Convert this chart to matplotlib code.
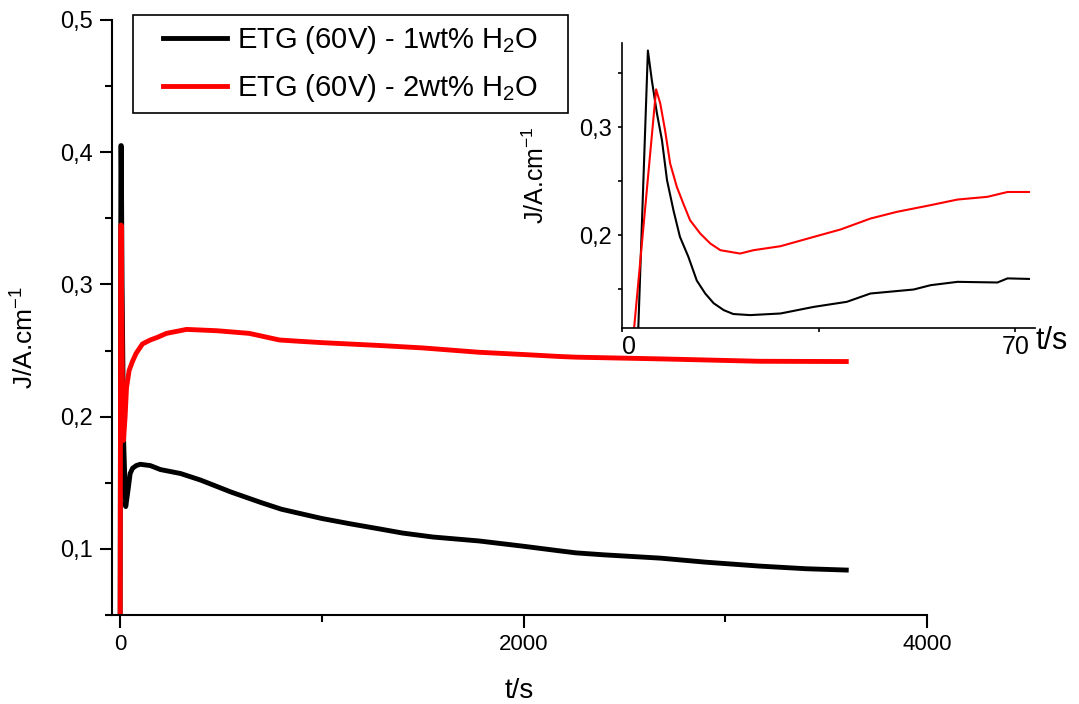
import matplotlib
matplotlib.use("Agg")

import matplotlib.pyplot as plt
from matplotlib.patches import Rectangle
from matplotlib.ticker import FuncFormatter, MultipleLocator, FixedLocator

plt.rcParams["font.family"] = ["Liberation Sans", "DejaVu Sans"]
plt.rcParams["mathtext.default"] = "regular"

# ---------- Data: full run ----------
t_1wt = [0, 4, 6, 10, 18, 28, 40, 50, 62, 80, 100, 150, 200, 300, 400, 550,
         700, 800, 900, 1000, 1140, 1290, 1400, 1550, 1780, 2000, 2180, 2260,
         2400, 2680, 2900, 3170, 3400, 3600]
j_1wt = [0.0, 0.405, 0.405, 0.30, 0.18, 0.132, 0.145, 0.157, 0.161, 0.163,
         0.164, 0.163, 0.160, 0.157, 0.152, 0.143, 0.135, 0.130, 0.1265, 0.123,
         0.119, 0.115, 0.112, 0.109, 0.106, 0.102, 0.0985, 0.097, 0.0955,
         0.093, 0.090, 0.087, 0.085, 0.084]

t_2wt = [0, 3, 5, 8, 12, 17, 25, 32, 45, 62, 80, 111, 150, 185, 230, 330, 480,
         640, 790, 890, 1000, 1290, 1500, 1780, 2000, 2180, 2260, 2680, 3170,
         3600]
j_2wt = [0.0, 0.30, 0.345, 0.29, 0.22, 0.182, 0.20, 0.222, 0.235, 0.242,
         0.248, 0.255, 0.258, 0.26, 0.263, 0.266, 0.265, 0.263, 0.258, 0.257,
         0.256, 0.2538, 0.252, 0.2487, 0.247, 0.2455, 0.245, 0.2437, 0.2419,
         0.2417]

# ---------- Data: first 70 s (inset) ----------
ti_1wt = [2.8, 4.6, 5.3, 6.2, 7.1, 8.0, 9.15, 10.3, 11.8, 13.3, 14.8, 16.3,
          18.1, 19.8, 22.8, 28.2, 34.1, 40.0, 44.2, 51.9, 54.9, 59.7, 66.8,
          68.6, 72.4]
ji_1wt = [0.10, 0.371, 0.3435, 0.313, 0.288, 0.251, 0.223, 0.1985, 0.180,
          0.158, 0.146, 0.137, 0.1306, 0.127, 0.126, 0.1275, 0.1336, 0.1383,
          0.146, 0.1497, 0.1537, 0.1568, 0.1562, 0.160, 0.1595]

ti_2wt = [1.9, 6.06, 6.8, 7.66, 8.56, 9.75, 10.9, 12.1, 13.9, 15.7, 17.5, 21.0,
          23.4, 28.2, 34.1, 38.9, 44.2, 48.9, 54.9, 59.7, 65.0, 68.6, 72.4]
ji_2wt = [0.10, 0.335, 0.322, 0.297, 0.2664, 0.2447, 0.2293, 0.2139, 0.2016,
          0.1923, 0.1861, 0.183, 0.1861, 0.1898, 0.1984, 0.2053, 0.2154,
          0.2216, 0.2278, 0.2330, 0.2355, 0.240, 0.240]

labels = ["ETG (60V) - 1wt% H$_2$O", "ETG (60V) - 2wt% H$_2$O"]
ylab = "J/A.cm$^{-1}$"

comma = FuncFormatter(lambda v, p: f"{v:g}".replace(".", ","))

fig = plt.figure(figsize=(10.79, 7.04), dpi=100)

# ---------- Main axes ----------
ax = fig.add_axes([0.1038, 0.1264, 0.7553, 0.8452])
ax.plot(t_1wt, j_1wt, color="black", lw=3.5, label=labels[0])
ax.plot(t_2wt, j_2wt, color="red", lw=3.5, label=labels[1])

ax.set_xlim(-40, 4000)
ax.set_ylim(0.05, 0.5)
ax.spines["top"].set_visible(False)
ax.spines["right"].set_visible(False)
for s in ("left", "bottom"):
    ax.spines[s].set_linewidth(1.5)

ax.xaxis.set_major_locator(FixedLocator([0, 2000, 4000]))
ax.xaxis.set_minor_locator(FixedLocator([1000, 3000]))
ax.yaxis.set_major_locator(MultipleLocator(0.1))
ax.yaxis.set_minor_locator(MultipleLocator(0.05))
ax.yaxis.set_major_formatter(comma)
ax.tick_params(which="major", direction="out", length=9, width=1.5)
ax.tick_params(which="minor", direction="out", length=5, width=1.5)
ax.tick_params(axis="y", labelsize=17, pad=5)
ax.tick_params(axis="x", labelsize=16, pad=5)

ax.set_xlabel("t/s", fontsize=20)
ax.xaxis.set_label_coords(0.4994, -0.106)
ax.set_ylabel(ylab, fontsize=19)
ax.yaxis.set_label_coords(-0.0896, 0.467)

# legend: frame drawn separately so the padding can match
leg = ax.legend(loc="upper left", bbox_to_anchor=(0.1511, 0.9659),
                bbox_transform=fig.transFigure, fontsize=21, frameon=False,
                borderaxespad=0, borderpad=0, handlelength=2.2,
                handletextpad=0.35, labelspacing=0.55)
for h in leg.get_lines():
    h.set_linewidth(3.5)
fig.patches.append(Rectangle((0.1233, 0.8395), 0.4032, 0.1392,
                             transform=fig.transFigure, fill=False,
                             edgecolor="black", linewidth=1.2))

# ---------- Inset ----------
ax_in = fig.add_axes([0.5765, 0.534, 0.3828, 0.405])
ax_in.plot(ti_1wt, ji_1wt, color="black", lw=1.5)
ax_in.plot(ti_2wt, ji_2wt, color="red", lw=1.5)
ax_in.set_xlim(0, 73.5)
ax_in.set_ylim(0.114, 0.378)
ax_in.spines["top"].set_visible(False)
ax_in.spines["right"].set_visible(False)
for s in ("left", "bottom"):
    ax_in.spines[s].set_linewidth(1.2)

ax_in.xaxis.set_major_locator(FixedLocator([0, 70]))
ax_in.xaxis.set_minor_locator(FixedLocator([35]))
ax_in.yaxis.set_major_locator(MultipleLocator(0.1))
ax_in.yaxis.set_minor_locator(FixedLocator([0.15, 0.25, 0.35]))
ax_in.yaxis.set_major_formatter(comma)
ax_in.tick_params(which="both", direction="out", length=3, width=1.2)
ax_in.tick_params(axis="y", labelsize=17, pad=4)
ax_in.tick_params(axis="x", labelsize=18, pad=2)
ax_in.get_xticklabels()[0].set_horizontalalignment("left")

ax_in.set_ylabel(ylab, fontsize=18)
ax_in.yaxis.set_label_coords(-0.178, 0.537)
ax_in.text(1.041, -0.045, "t/s", transform=ax_in.transAxes, fontsize=22,
           ha="center", va="center")

fig.savefig("out.png", dpi=100)
